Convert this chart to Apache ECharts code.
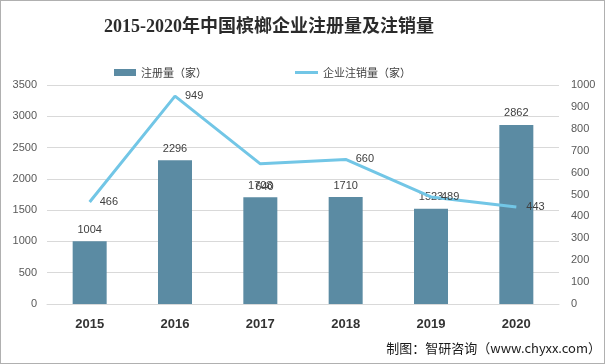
<!DOCTYPE html>
<html><head><meta charset="utf-8">
<script src="https://cdn.jsdelivr.net/npm/echarts@6/dist/echarts.min.js"></script>
<style>
html,body{margin:0;padding:0;background:#fff;}
#c{width:603px;height:362px;border:1px solid #b0b0b0;}
</style></head>
<body><div id="c"></div>
<script>
const years = ['2015','2016','2017','2018','2019','2020'];
const registered = [1004, 2296, 1708, 1710, 1523, 2862];
const cancelled = [466, 949, 640, 660, 489, 443];
const leftTicks = {min: 0, max: 3500, interval: 500};
const rightTicks = {min: 0, max: 1000, interval: 100};
const titleText = '2015-2020年中国槟榔企业注册量及注销量';
const barName = '注册量（家）';
const lineName = '企业注销量（家）';
const sourceText = '制图：智研咨询（www.chyxx.com）';

const chart = echarts.init(document.getElementById('c'), null, {renderer: 'canvas'});
const lineData = cancelled.map((v, i) => {
  if (i === 2) return {value: v, label: {position: [-5, 23], align: 'left', verticalAlign: 'middle'}};
  return v;
});
const lblFont = 'Liberation Sans, Arial';
chart.setOption({
  animation: false,
  backgroundColor: '#fff',
  title: {
    text: titleText, left: 98, top: 12,
    textStyle: {fontFamily: 'Liberation Serif, Noto Sans CJK SC, serif', fontSize: 18, fontWeight: 'bold', color: '#2b2b2b'}
  },
  legend: [
    {left: 108, top: 61, itemWidth: 22, itemHeight: 7,
     textStyle: {fontSize: 11, color: '#404040', fontFamily: 'Noto Sans CJK SC'},
     data: [{name: barName, icon: 'rect'}]},
    {left: 289, top: 61, itemWidth: 23, itemHeight: 3,
     textStyle: {fontSize: 11, color: '#404040', fontFamily: 'Noto Sans CJK SC'},
     data: [{name: lineName, icon: 'rect'}]}
  ],
  grid: {left: 46, right: 45, top: 84, bottom: 59, containLabel: false},
  xAxis: {
    type: 'category', data: years,
    axisLine: {lineStyle: {color: '#d9d9d9'}},
    axisTick: {show: false},
    axisLabel: {color: '#333', fontWeight: 'bold', fontSize: 13, margin: 14, fontFamily: lblFont}
  },
  yAxis: [
    {type: 'value', min: leftTicks.min, max: leftTicks.max, interval: leftTicks.interval,
     axisLine: {show: false}, axisTick: {show: false},
     axisLabel: {color: '#595959', fontSize: 11, margin: 10, fontFamily: lblFont, formatter: v => String(v)},
     splitLine: {lineStyle: {color: '#d9d9d9'}}},
    {type: 'value', min: rightTicks.min, max: rightTicks.max, interval: rightTicks.interval,
     axisLine: {show: false}, axisTick: {show: false},
     axisLabel: {color: '#595959', fontSize: 11, margin: 12, fontFamily: lblFont, formatter: v => String(v)},
     splitLine: {show: false}}
  ],
  series: [
    {name: barName, type: 'bar', data: registered, barWidth: 34, yAxisIndex: 0,
     itemStyle: {color: '#5b8ba3'},
     label: {show: true, position: 'top', distance: 6, color: '#404040', fontSize: 11, fontFamily: lblFont}},
    {name: lineName, type: 'line', data: lineData, yAxisIndex: 1,
     symbol: 'circle', symbolSize: 0.01, showSymbol: true,
     lineStyle: {color: '#72c6e6', width: 3}, itemStyle: {color: '#72c6e6'},
     labelLayout: {hideOverlap: false},
     label: {show: true, position: 'right', distance: 10, color: '#404040', fontSize: 11, fontFamily: lblFont}}
  ],
  graphic: [{
    type: 'text', right: 3, bottom: 8,
    style: {text: sourceText, fontSize: 13, fill: '#1a1a1a', fontFamily: 'Noto Sans CJK SC'}
  }]
});
</script></body></html>
